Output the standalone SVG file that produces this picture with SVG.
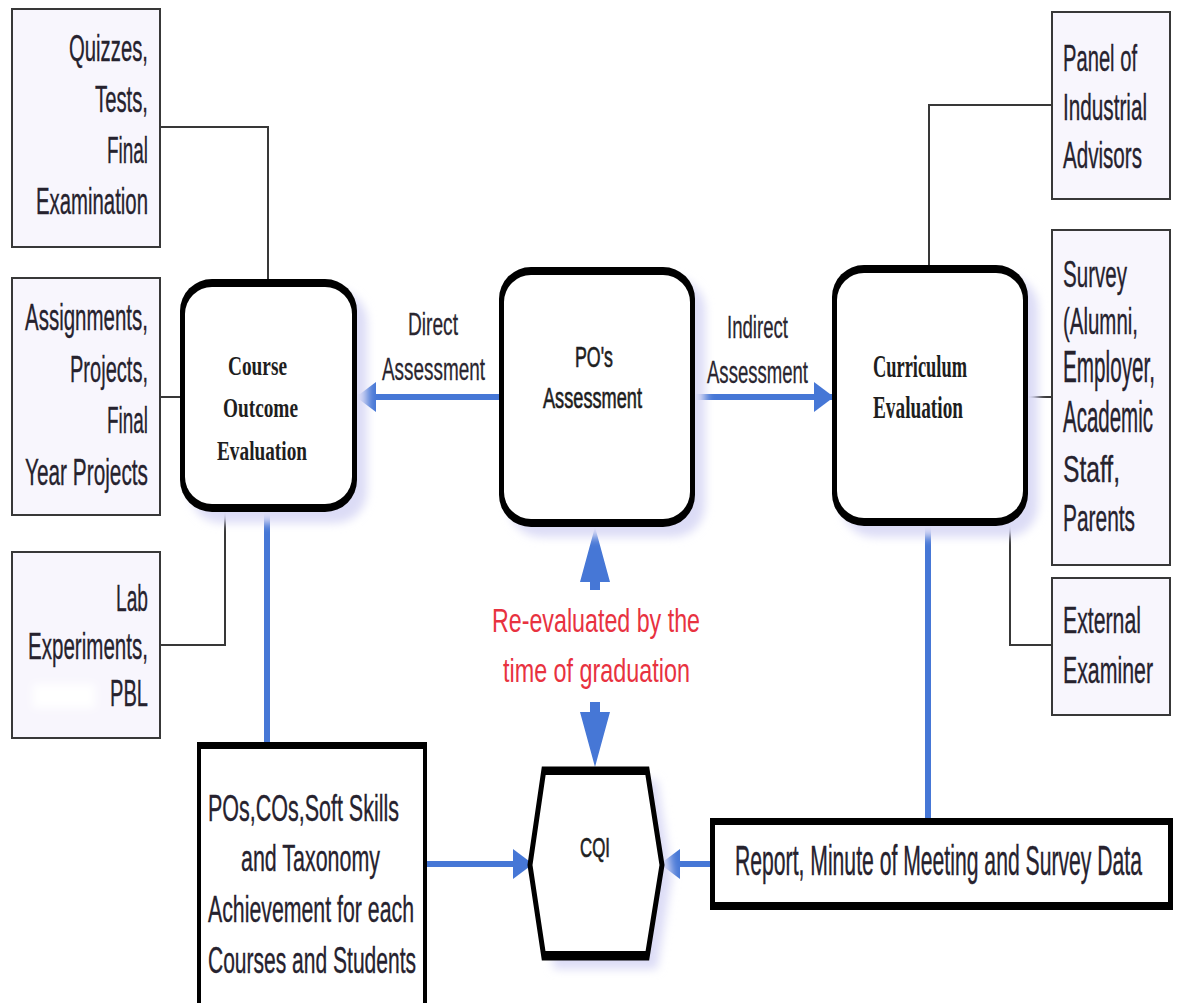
<svg xmlns="http://www.w3.org/2000/svg" width="1178" height="1003" viewBox="0 0 1178 1003">
<style>
text{font-variant-ligatures:none}
.box{fill:#f8f6fd;stroke:#383838;stroke-width:2}
.t{font-family:'Liberation Sans Narrow','Liberation Sans',Arial,sans-serif;font-size:27px;fill:#26222e;stroke:#26222e;stroke-width:0.25}
.lbl{font-family:'Liberation Sans Narrow','Liberation Sans',Arial,sans-serif;font-size:23px;fill:#2a2630;stroke:#2a2630;stroke-width:0.2}
.nb{font-family:'Liberation Serif','Times New Roman',serif;font-weight:bold;fill:#1e1e1e}
.ns{font-family:'Liberation Sans Narrow','Liberation Sans',Arial,sans-serif;fill:#1e1e1e;stroke:#1e1e1e;stroke-width:0.5}
.red{font-family:'Liberation Sans Narrow','Liberation Sans',Arial,sans-serif;font-size:28px;fill:#e8323f}
.gc{fill:none;stroke:#383838;stroke-width:2}
.bl{fill:none;stroke:#4677d6;stroke-width:6}
.blf{fill:#4677d6}
.shadow{fill:#dcdcf6}
</style>
<defs>
<filter id="blur" x="-20%" y="-20%" width="140%" height="140%"><feGaussianBlur stdDeviation="5"/></filter>
<filter id="blur2" x="-20%" y="-50%" width="140%" height="200%"><feGaussianBlur stdDeviation="4"/></filter>
<marker id="ah" markerUnits="userSpaceOnUse" markerWidth="20" markerHeight="30" refX="19" refY="15" orient="auto" viewBox="0 0 20 30">
<path d="M0,0 L20,15 L0,30 Z" class="blf"/>
</marker>
</defs>
<rect width="1178" height="1003" fill="#ffffff"/>

<g id="connectors">
<path class="gc" d="M160,127 H268 V282"/>
<path class="gc" d="M160,397 H181"/>
<path class="gc" d="M160,645 H225 V512"/>
<path class="gc" d="M1052,105 H929 V268"/>
<path class="gc" d="M1027,397 H1052"/>
<path class="gc" d="M1010,524 V645 H1052"/>
<path class="bl" d="M267,512 V745" stroke-width="5"/>
<path class="bl" d="M928,524 V818" stroke-width="3.5"/>
<path class="bl" d="M499,397 H357" marker-end="url(#ah)"/>
<path class="bl" d="M695,397 H833" marker-end="url(#ah)"/>
<path class="bl" d="M427,864 H532" marker-end="url(#ah)"/>
<path class="bl" d="M710,864 H661" marker-end="url(#ah)"/>
<path class="blf" d="M595,527 L610,582 L600,582 L600,590 L590,590 L590,582 L580,582 Z"/>
<path class="blf" d="M590,702 L600,702 L600,712 L610,712 L595,767 L580,712 L590,712 Z"/>
</g>

<g id="quizzes">
<rect class="box" x="12" y="9" width="148" height="238"/>
<text class="t" transform="translate(69,61) scale(1,1.4)" textLength="79" lengthAdjust="spacingAndGlyphs">Quizzes,</text>
<text class="t" transform="translate(95,112) scale(1,1.4)" textLength="53" lengthAdjust="spacingAndGlyphs">Tests,</text>
<text class="t" transform="translate(107,163) scale(1,1.4)" textLength="41" lengthAdjust="spacingAndGlyphs">Final</text>
<text class="t" transform="translate(36,214) scale(1,1.4)" textLength="112" lengthAdjust="spacingAndGlyphs">Examination</text>
</g>

<g id="assignments">
<rect class="box" x="12" y="278" width="148" height="237"/>
<text class="t" transform="translate(25,330) scale(1,1.4)" textLength="123" lengthAdjust="spacingAndGlyphs">Assignments,</text>
<text class="t" transform="translate(70,382) scale(1,1.4)" textLength="78" lengthAdjust="spacingAndGlyphs">Projects,</text>
<text class="t" transform="translate(107,433) scale(1,1.4)" textLength="41" lengthAdjust="spacingAndGlyphs">Final</text>
<text class="t" transform="translate(25,485) scale(1,1.4)" textLength="123" lengthAdjust="spacingAndGlyphs">Year Projects</text>
</g>

<g id="lab">
<rect class="box" x="12" y="552" width="148" height="186"/>
<rect x="33" y="684" width="62" height="24" fill="#ffffff" filter="url(#blur2)"/>
<text class="t" transform="translate(116,611) scale(1,1.4)" textLength="32" lengthAdjust="spacingAndGlyphs">Lab</text>
<text class="t" transform="translate(28,659) scale(1,1.4)" textLength="120" lengthAdjust="spacingAndGlyphs">Experiments,</text>
<text class="t" transform="translate(110,706) scale(1,1.4)" textLength="38" lengthAdjust="spacingAndGlyphs">PBL</text>
</g>

<g id="panel">
<rect class="box" x="1052" y="12" width="118" height="187"/>
<text class="t" transform="translate(1063,71) scale(1,1.4)" textLength="74" lengthAdjust="spacingAndGlyphs">Panel of</text>
<text class="t" transform="translate(1063,120) scale(1,1.4)" textLength="84" lengthAdjust="spacingAndGlyphs">Industrial</text>
<text class="t" transform="translate(1063,168) scale(1,1.4)" textLength="79" lengthAdjust="spacingAndGlyphs">Advisors</text>
</g>

<g id="survey">
<rect class="box" x="1052" y="230" width="118" height="335"/>
<text class="t" transform="translate(1063,287) scale(1,1.4)" textLength="64" lengthAdjust="spacingAndGlyphs">Survey</text>
<text class="t" transform="translate(1063,334) scale(1,1.4)" textLength="75" lengthAdjust="spacingAndGlyphs">(Alumni,</text>
<text class="t" transform="translate(1063,382) scale(1,1.64)" font-size="23" textLength="92" lengthAdjust="spacingAndGlyphs">Employer,</text>
<text class="t" transform="translate(1063,432) scale(1,1.64)" font-size="23" textLength="90" lengthAdjust="spacingAndGlyphs">Academic</text>
<text class="t" transform="translate(1063,482) scale(1,1.4)" textLength="57" lengthAdjust="spacingAndGlyphs">Staff,</text>
<text class="t" transform="translate(1063,531) scale(1,1.4)" textLength="72" lengthAdjust="spacingAndGlyphs">Parents</text>
</g>

<g id="external">
<rect class="box" x="1052" y="578" width="118" height="137"/>
<text class="t" transform="translate(1063,633) scale(1,1.4)" textLength="78" lengthAdjust="spacingAndGlyphs">External</text>
<text class="t" transform="translate(1063,683) scale(1,1.4)" textLength="90" lengthAdjust="spacingAndGlyphs">Examiner</text>
</g>

<g id="course-outcome">
<rect class="shadow" x="190" y="290" width="177" height="233" rx="32" filter="url(#blur)"/>
<rect x="180" y="279" width="177" height="233" rx="32" fill="#000"/>
<rect x="185" y="287" width="167" height="217" rx="27" fill="#fff"/>
<text class="nb" transform="translate(228,375) scale(1,1.35)" font-size="20" textLength="59" lengthAdjust="spacingAndGlyphs">Course</text>
<text class="nb" transform="translate(223,417) scale(1,1.35)" font-size="20" textLength="75" lengthAdjust="spacingAndGlyphs">Outcome</text>
<text class="nb" transform="translate(217,460) scale(1,1.35)" font-size="20" textLength="90" lengthAdjust="spacingAndGlyphs">Evaluation</text>
</g>

<g id="direct-label">
<text class="lbl" transform="translate(408,335) scale(1,1.4)" textLength="50" lengthAdjust="spacingAndGlyphs">Direct</text>
<text class="lbl" transform="translate(382,380) scale(1,1.4)" textLength="103" lengthAdjust="spacingAndGlyphs">Assessment</text>
</g>

<g id="po-assessment">
<rect class="shadow" x="509" y="278" width="196" height="259" rx="32" filter="url(#blur)"/>
<rect x="499" y="267" width="196" height="260" rx="32" fill="#000"/>
<rect x="504" y="275" width="186" height="244" rx="27" fill="#fff"/>
<text class="ns" transform="translate(575,367) scale(1,1.3)" font-size="22" textLength="38" lengthAdjust="spacingAndGlyphs">PO's</text>
<text class="ns" transform="translate(543,408) scale(1,1.3)" font-size="22" textLength="99" lengthAdjust="spacingAndGlyphs">Assessment</text>
</g>

<g id="indirect-label">
<text class="lbl" transform="translate(727,338) scale(1,1.4)" textLength="61" lengthAdjust="spacingAndGlyphs">Indirect</text>
<text class="lbl" transform="translate(707,383) scale(1,1.4)" textLength="101" lengthAdjust="spacingAndGlyphs">Assessment</text>
</g>

<g id="curriculum">
<rect class="shadow" x="842" y="276" width="196" height="261" rx="32" filter="url(#blur)"/>
<rect x="832" y="265" width="196" height="261" rx="32" fill="#000"/>
<rect x="837" y="273" width="186" height="245" rx="27" fill="#fff"/>
<text class="nb" transform="translate(873,377) scale(1,1.4)" font-size="22" textLength="94" lengthAdjust="spacingAndGlyphs">Curriculum</text>
<text class="nb" transform="translate(873,418) scale(1,1.4)" font-size="22" textLength="90" lengthAdjust="spacingAndGlyphs">Evaluation</text>
</g>

<g id="re-evaluated">
<text class="red" transform="translate(492,632) scale(1,1.2)" textLength="208" lengthAdjust="spacingAndGlyphs">Re-evaluated by the</text>
<text class="red" transform="translate(503,682) scale(1,1.2)" textLength="187" lengthAdjust="spacingAndGlyphs">time of graduation</text>
</g>

<g id="pos-cos">
<rect x="197" y="742" width="230" height="270" fill="#000"/>
<rect x="201" y="749" width="222" height="270" fill="#fff"/>
<text class="t" transform="translate(208,821) scale(1,1.38)" font-size="26" textLength="191" lengthAdjust="spacingAndGlyphs">POs,COs,Soft Skills</text>
<text class="t" transform="translate(241,871) scale(1,1.38)" font-size="26" textLength="139" lengthAdjust="spacingAndGlyphs">and Taxonomy</text>
<text class="t" transform="translate(208,922) scale(1,1.38)" font-size="26" textLength="206" lengthAdjust="spacingAndGlyphs">Achievement for each</text>
<text class="t" transform="translate(208,973) scale(1,1.38)" font-size="26" textLength="208" lengthAdjust="spacingAndGlyphs">Courses and Students</text>
</g>

<g id="cqi">
<path class="shadow" d="M554,780 L657,780 L672,876 L657,969 L554,969 L540,876 Z" filter="url(#blur)"/>
<path d="M544,769 L647,769 L662,865 L647,958 L544,958 L530,865 Z" fill="#fff" stroke="#000" stroke-width="5" stroke-linejoin="miter"/>
<rect x="543" y="767" width="105" height="8" fill="#000"/>
<rect x="543" y="951" width="105" height="9" fill="#000"/>
<text class="ns" transform="translate(580,857) scale(1,1.33)" font-size="21" textLength="30" lengthAdjust="spacingAndGlyphs">CQI</text>
</g>

<g id="report">
<rect x="710" y="818" width="463" height="92" fill="#000"/>
<rect x="715" y="825" width="453" height="77" fill="#fff"/>
<text class="t" transform="translate(735,875) scale(1,1.57)" font-size="21" textLength="407" lengthAdjust="spacingAndGlyphs">Report, Minute of Meeting and Survey Data</text>
</g>
</svg>
